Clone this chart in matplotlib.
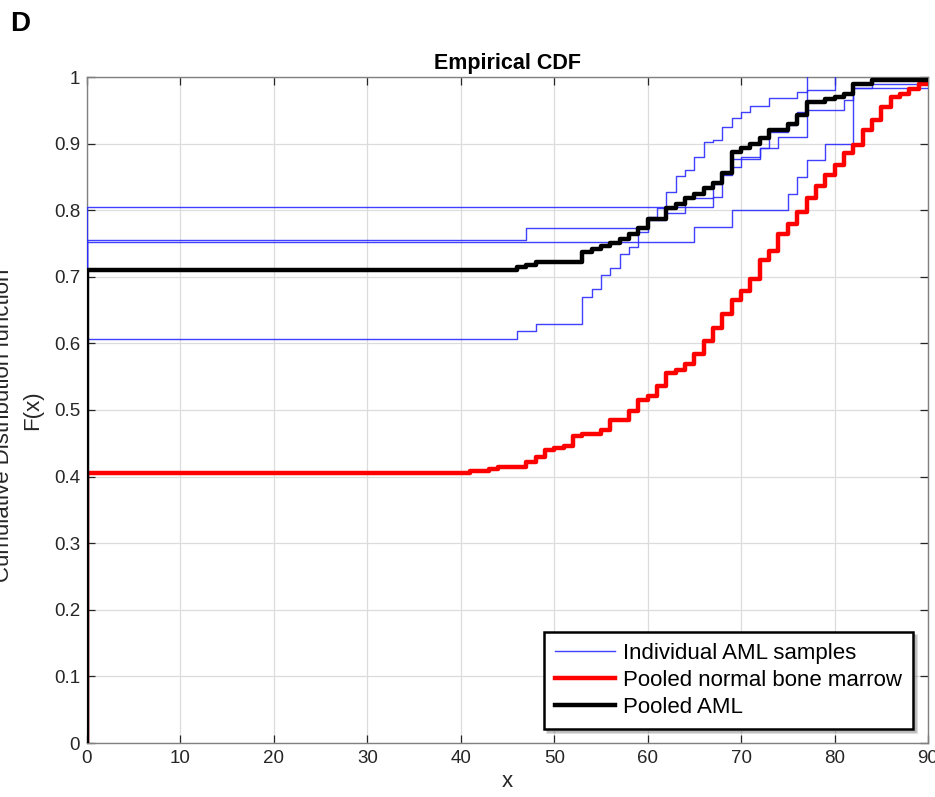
import matplotlib
matplotlib.use("Agg")
import matplotlib.pyplot as plt

plt.rcParams['font.family'] = ['Liberation Sans', 'DejaVu Sans']

# ---------------- data (step positions x and ECDF level after the step) ----------------
red_x = [0, 41, 43, 44, 47, 48, 49, 50, 51, 52, 53, 55, 56, 58, 59, 60, 61, 62, 63, 64, 65,
         66, 67, 68, 69, 70, 71, 72, 73, 74, 75, 76, 77, 78, 79, 80, 81, 82, 83, 84, 85, 86,
         87, 88, 89, 90, 95]
red_F = [0.405, 0.408, 0.412, 0.415, 0.422, 0.429, 0.440, 0.443, 0.446, 0.461, 0.464, 0.470,
         0.485, 0.499, 0.515, 0.521, 0.536, 0.556, 0.560, 0.569, 0.584, 0.604, 0.623, 0.644,
         0.665, 0.678, 0.697, 0.725, 0.738, 0.765, 0.779, 0.798, 0.818, 0.836, 0.853, 0.868,
         0.886, 0.898, 0.920, 0.935, 0.955, 0.970, 0.975, 0.982, 0.989, 0.993, 1.0]

black_x = [0, 46, 47, 48, 53, 54, 55, 56, 57, 58, 59, 60, 62, 63, 64, 65, 66, 67, 68, 69, 70,
           71, 72, 73, 75, 76, 77, 79, 80, 81, 82, 84, 95]
black_F = [0.710, 0.714, 0.718, 0.722, 0.737, 0.741, 0.746, 0.751, 0.757, 0.764, 0.774, 0.787,
           0.803, 0.810, 0.818, 0.825, 0.833, 0.841, 0.856, 0.888, 0.893, 0.900, 0.908, 0.920,
           0.929, 0.943, 0.962, 0.967, 0.970, 0.974, 0.990, 0.996, 1.0]

s1_x = [0, 67, 68, 69, 72, 73, 75, 76, 77, 81, 82, 84, 95]
s1_F = [0.805, 0.820, 0.853, 0.877, 0.894, 0.918, 0.928, 0.948, 0.951, 0.966, 0.983, 0.990, 1.0]

s2_x = [0, 47, 60, 61, 62, 63, 64, 65, 66, 67, 68, 69, 70, 71, 73, 76, 77]
s2_F = [0.755, 0.773, 0.790, 0.803, 0.828, 0.851, 0.861, 0.880, 0.903, 0.905, 0.925, 0.938,
        0.948, 0.957, 0.968, 0.977, 1.0]

s3_x = [0, 65, 69, 75, 76, 77, 79, 82, 95]
s3_F = [0.752, 0.775, 0.800, 0.825, 0.850, 0.875, 0.900, 0.983, 1.0]

s4_x = [0, 46, 48, 53, 54, 55, 56, 57, 58, 59, 60, 62, 64, 67, 68, 69, 70, 72, 74, 77, 80]
s4_F = [0.607, 0.618, 0.629, 0.670, 0.681, 0.703, 0.713, 0.734, 0.745, 0.767, 0.785, 0.796,
        0.818, 0.840, 0.855, 0.865, 0.880, 0.893, 0.910, 0.980, 1.0]

samples = [(s1_x, s1_F), (s2_x, s2_F), (s3_x, s3_F), (s4_x, s4_F)]

x_ticks = [0, 10, 20, 30, 40, 50, 60, 70, 80, 90]
y_ticks = [0, 0.1, 0.2, 0.3, 0.4, 0.5, 0.6, 0.7, 0.8, 0.9, 1.0]
y_tick_labels = ['0', '0.1', '0.2', '0.3', '0.4', '0.5', '0.6', '0.7', '0.8', '0.9', '1']

legend_labels = ['Individual AML samples', 'Pooled normal bone marrow', 'Pooled AML']


def ecdf_steps(xs, Fs):
    # ECDF stairs start at the smallest value with F = 0
    return [xs[0]] + list(xs), [0.0] + list(Fs)


W, H = 935, 797
fig = plt.figure(figsize=(W / 100, H / 100), dpi=100)
ax = fig.add_axes([87 / W, 1 - 743 / H, 841 / W, 666 / H])

tick_col = '#262626'

blue_handle = None
for i, (xs, Fs) in enumerate(samples):
    sx, sF = ecdf_steps(xs, Fs)
    h, = ax.step(sx, sF, where='post', color='#2b2bff', lw=1.0, alpha=0.9, zorder=3)
    if blue_handle is None:
        blue_handle = h

rx, rF = ecdf_steps(red_x, red_F)
red_handle, = ax.step(rx, rF, where='post', color='#ff0000', lw=3.2, zorder=4)
bx, bF = ecdf_steps(black_x, black_F)
black_handle, = ax.step(bx, bF, where='post', color='#000000', lw=3.2, zorder=5)

ax.set_xlim(0, 90)
ax.set_ylim(0, 1)
ax.set_xticks(x_ticks)
ax.set_yticks(y_ticks)
ax.set_yticklabels(y_tick_labels)
ax.grid(True, color='#dcdcdc', lw=0.9)
ax.set_axisbelow(True)
ax.tick_params(direction='in', length=6, width=0.9, colors=tick_col, labelsize=13.5,
               top=True, right=True, pad=5)
for sp in ax.spines.values():
    sp.set_color('#808080')
    sp.set_linewidth(1.0)

ax.set_title('Empirical CDF', fontsize=15.5, fontweight='bold', pad=6)
ax.set_xlabel('x', fontsize=16, color=tick_col, labelpad=3)

fig.text(33 / W, 1 - 410 / H, 'F(x)', rotation=90, ha='center', va='center',
         fontsize=16, color=tick_col)
fig.text(4 / W, 1 - 425 / H, 'Cumulative Distribution function', rotation=90, ha='center',
         va='center', fontsize=16, color=tick_col)
fig.text(10 / W, 1 - 24 / H, 'D', ha='left', va='center', fontsize=20, fontweight='bold')

leg = ax.legend([blue_handle, red_handle, black_handle], legend_labels,
                loc='lower right', bbox_to_anchor=(0.982, 0.021), borderaxespad=0,
                fontsize=16, frameon=True, fancybox=False, handlelength=2.7,
                handletextpad=0.35, labelspacing=0.27, borderpad=0.5,
                shadow={'alpha': 0.25})
leg.get_frame().set_edgecolor('black')
leg.get_frame().set_linewidth(1.8)
leg.set_zorder(10)

fig.savefig('out.png', dpi=100)
